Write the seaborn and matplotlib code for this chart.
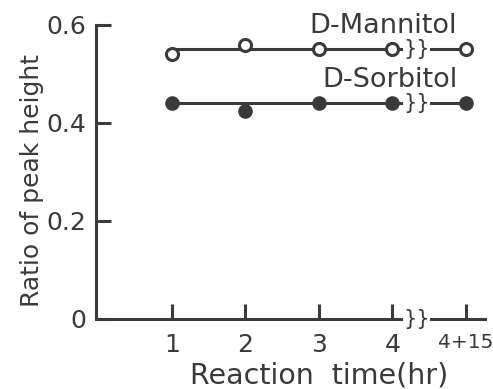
import matplotlib
matplotlib.use("Agg")
import matplotlib.pyplot as plt
import seaborn as sns
import pandas as pd

# data
time_labels = ["1", "2", "3", "4", "4+15"]
time_pos = [1, 2, 3, 4, 5]
mannitol = [0.54, 0.56, 0.55, 0.55, 0.55]
sorbitol = [0.44, 0.425, 0.44, 0.44, 0.44]
mannitol_level = 0.55
sorbitol_level = 0.44
y_ticks = [0, 0.2, 0.4, 0.6]
y_tick_labels = ["0", "0.2", "0.4", "0.6"]

df = pd.DataFrame({"t": time_pos, "D-Mannitol": mannitol, "D-Sorbitol": sorbitol})

sns.set_theme(style="ticks")
plt.rcParams["font.family"] = ["DejaVu Sans"]
ink = "#3a3a3a"

fig = plt.figure(figsize=(4.93, 3.89), dpi=100)
fig.patch.set_facecolor("white")
ax = fig.add_axes([0.195, 0.18, 0.789, 0.756])

# flat reference lines
lines = pd.DataFrame({"t": [time_pos[0], time_pos[-1]] * 2,
                      "v": [mannitol_level] * 2 + [sorbitol_level] * 2,
                      "s": ["m", "m", "s", "s"]})
sns.lineplot(data=lines, x="t", y="v", units="s", estimator=None,
             color=ink, lw=2.2, ax=ax, zorder=2)

sns.scatterplot(data=df, x="t", y="D-Mannitol", ax=ax, s=75, marker="o",
                facecolor="white", edgecolor=ink, linewidth=2.2, zorder=3)
sns.scatterplot(data=df, x="t", y="D-Sorbitol", ax=ax, s=90, marker="o",
                color=ink, edgecolor=ink, linewidth=1.0, zorder=3)

ax.set_xlim(-0.03, 5.26)
ax.set_ylim(0, 0.6)
ax.set_xticks(time_pos)
ax.set_xticklabels(time_labels)
ax.set_yticks(y_ticks)
ax.set_yticklabels(y_tick_labels)
ax.tick_params(axis="both", direction="in", length=11, width=2.2, color=ink,
               labelsize=18, labelcolor=ink)
ax.tick_params(axis="x", pad=10)
ax.tick_params(axis="y", pad=7)
ax.get_xticklabels()[-1].set_fontsize(14.5)
for side in ["top", "right"]:
    ax.spines[side].set_visible(False)
for side in ["left", "bottom"]:
    ax.spines[side].set_linewidth(2.2)
    ax.spines[side].set_color(ink)

ax.set_xlabel("Reaction  time(hr)", fontsize=20.5, color=ink)
ax.xaxis.set_label_coords(0.573, -0.145)
ax.set_ylabel("Ratio of peak height", fontsize=18, color=ink)
ax.yaxis.set_label_coords(-0.135, 0.47)

# break marks
brk = 4.33
for yv in [mannitol_level, sorbitol_level, 0.0]:
    ax.text(brk, yv, "}}", ha="center", va="center", fontsize=15, color=ink,
            bbox=dict(facecolor="white", edgecolor="none", pad=0.0),
            zorder=4, clip_on=False)

ax.text(4.88, 0.598, "D-Mannitol", ha="right", va="center", fontsize=19.5, color=ink)
ax.text(4.88, 0.488, "D-Sorbitol", ha="right", va="center", fontsize=19.5, color=ink)

fig.savefig("out.png", dpi=100, facecolor="white")
